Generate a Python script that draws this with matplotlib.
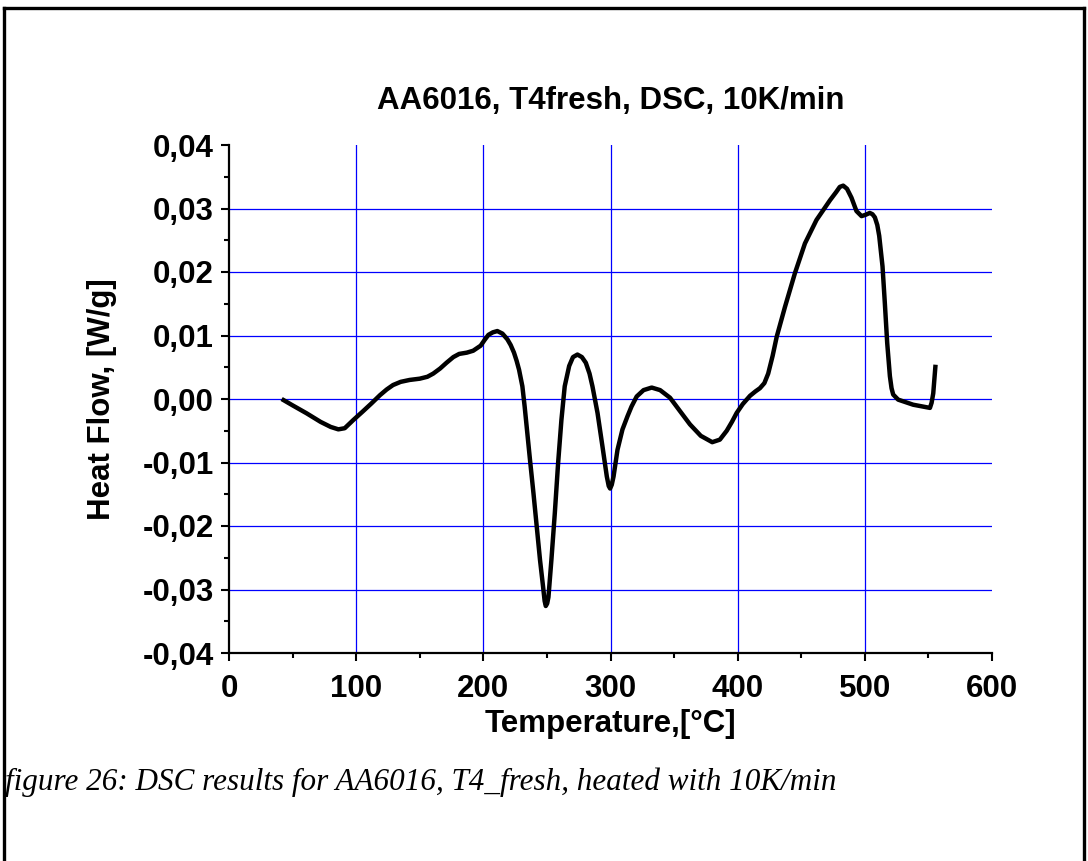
import matplotlib
matplotlib.use("Agg")
import matplotlib.pyplot as plt
from matplotlib.lines import Line2D
from matplotlib.ticker import MultipleLocator, FuncFormatter

# Data (Temperature [°C], Heat Flow [W/g])
temperature = [41.4, 50, 61, 72, 80, 86, 91, 97.8, 105, 112, 118.7, 124, 129, 135, 142, 150,
               156, 160.6, 166, 171, 176.4, 181, 187, 192, 197.9, 201, 204, 207.5, 211, 215, 218.9,
               221.5, 224.1, 226.2, 228.1, 230.7, 232.5, 234.6, 236.7, 239.4, 242, 244.6, 247,
               248.2, 249.1, 250.2, 251.2, 253.5, 256.2, 258.8, 261.4, 264, 267.5, 270.5, 274,
               277.5, 280.6, 283.5, 285.8, 289.8, 293.7, 297.1, 298.6, 299.7, 301, 302.4, 305.5,
               309.4, 313.4, 316.5, 320.6, 326, 332.4, 339, 346.8, 355, 362.5, 371, 380, 386,
               391.4, 395.5, 399.2, 404, 409.7, 414, 417.5, 421, 424, 427.5, 430.7, 437.2, 445,
               452.9, 462, 472.6, 477.5, 480.3, 483, 486, 489.5, 493.4, 497.4, 500.5, 503.9,
               506, 507.9, 509.8, 511.3, 513.9, 515.7, 517.6, 519.7, 521, 522.3, 526.2, 538,
               551.2, 552.5, 553.8, 555.6]
heat_flow = [0.0, -0.0010, -0.00225, -0.0036, -0.0044, -0.00478, -0.0046, -0.0033, -0.0020,
             -0.0007, 0.0006, 0.0015, 0.0022, 0.0027, 0.0030, 0.0032, 0.0035, 0.0040, 0.0048,
             0.0057, 0.0066, 0.0071, 0.0073, 0.0076, 0.0084, 0.0093, 0.0101, 0.0105, 0.0107,
             0.0103, 0.0094, 0.0085, 0.0073, 0.0060, 0.0046, 0.0020, -0.0012, -0.0054, -0.0096,
             -0.0148, -0.0201, -0.0254, -0.0296, -0.0318, -0.0326, -0.0322, -0.0312, -0.0254,
             -0.0180, -0.0101, -0.0033, 0.0020, 0.0052, 0.0066, 0.0070, 0.0066, 0.0057, 0.0040,
             0.0020, -0.0022, -0.0075, -0.0122, -0.0137, -0.0141, -0.0135, -0.0122, -0.0080,
             -0.0048, -0.0027, -0.0012, 0.0004, 0.0014, 0.0018, 0.0014, 0.0002, -0.0020, -0.0040,
             -0.0058, -0.0068, -0.0064, -0.0050, -0.0036, -0.0022, -0.0008, 0.0005, 0.0012,
             0.0017, 0.0025, 0.0040, 0.0068, 0.0098, 0.0145, 0.0198, 0.0245, 0.0282, 0.0313,
             0.0326, 0.0334, 0.0336, 0.0331, 0.0317, 0.0296, 0.0288, 0.0290, 0.0293, 0.0291,
             0.0286, 0.0274, 0.0257, 0.0209, 0.0152, 0.0088, 0.0036, 0.0017, 0.0007, -0.0001,
             -0.0009, -0.0014, -0.0006, 0.0009, 0.0054]

x_ticks = [0, 100, 200, 300, 400, 500, 600]
y_ticks = [-0.04, -0.03, -0.02, -0.01, 0.00, 0.01, 0.02, 0.03, 0.04]

title = "AA6016, T4fresh, DSC, 10K/min"
xlabel = "Temperature,[°C]"
ylabel = "Heat Flow, [W/g]"
caption = "figure 26: DSC results for AA6016, T4_fresh, heated with 10K/min"

plt.rcParams['font.family'] = ['Liberation Sans', 'DejaVu Sans']

FS = 22.5

fig = plt.figure(figsize=(10.88, 8.61), dpi=100)
ax = fig.add_axes([229/1088, 1 - 653/861, (992-229)/1088, (653-145)/861])

ax.set_xlim(0, 600)
ax.set_ylim(-0.04, 0.04)

# grid lines only at interior major ticks
for xv in x_ticks[1:-1]:
    ax.axvline(xv, color='#0000ff', lw=0.9, zorder=1)
for yv in y_ticks[1:-1]:
    ax.axhline(yv, color='#0000ff', lw=0.9, zorder=1)

ax.plot(temperature, heat_flow, color='black', lw=3.2, solid_capstyle='butt',
        solid_joinstyle='round', zorder=3)

for s in ['top', 'right']:
    ax.spines[s].set_visible(False)
for s in ['left', 'bottom']:
    ax.spines[s].set_linewidth(1.6)
    ax.spines[s].set_zorder(4)

ax.set_xticks(x_ticks)
ax.set_yticks(y_ticks)
ax.xaxis.set_minor_locator(MultipleLocator(50))
ax.yaxis.set_minor_locator(MultipleLocator(0.005))
ax.yaxis.set_major_formatter(FuncFormatter(lambda v, p: f"{v:.2f}".replace('.', ',').replace('-0,00', '0,00')))
ax.tick_params(which='major', direction='out', length=6, width=1.5, labelsize=FS, pad=5)
ax.tick_params(axis='x', which='major', pad=9)
ax.tick_params(which='minor', direction='out', length=3.5, width=1.5)
for lab in ax.get_xticklabels() + ax.get_yticklabels():
    lab.set_fontweight('bold')

ax.set_xlabel(xlabel, fontsize=FS, fontweight='bold', labelpad=4)
ax.set_ylabel(ylabel, fontsize=FS, fontweight='bold', labelpad=18)
ax.set_title(title, fontsize=FS, fontweight='bold', pad=26)

fig.text(5/1088, 1 - 782/861, caption, fontsize=22.4, family='Liberation Serif',
         style='italic', ha='left', va='center')

# outer frame (left, top, right)
frame_kw = dict(color='black', lw=2.4, transform=fig.transFigure)
fig.add_artist(Line2D([4/1088, 4/1088], [0, 1 - 8/861], **frame_kw))
fig.add_artist(Line2D([4/1088, 1084/1088], [1 - 8/861, 1 - 8/861], **frame_kw))
fig.add_artist(Line2D([1084/1088, 1084/1088], [0, 1 - 8/861], **frame_kw))

fig.savefig("out.png", dpi=100)
